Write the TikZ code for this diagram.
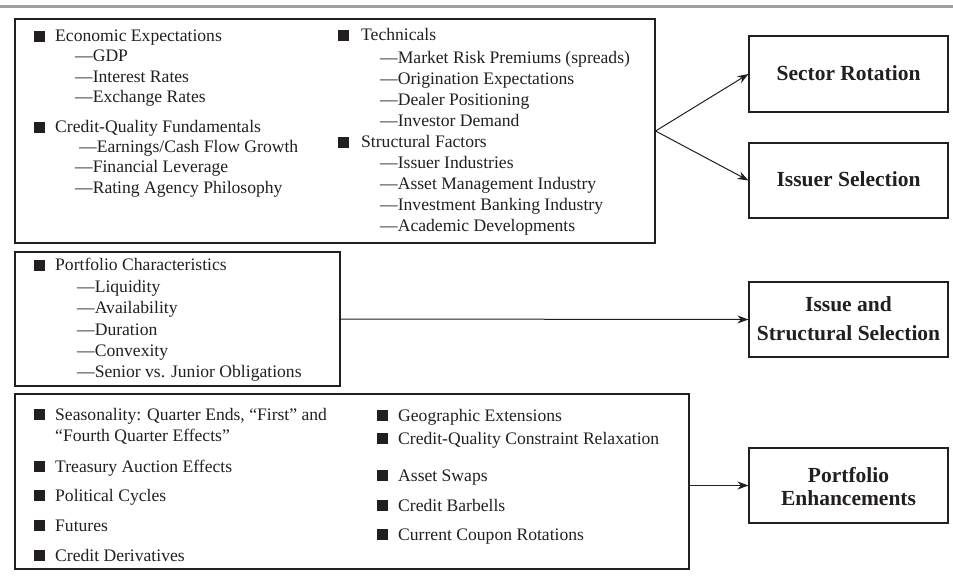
\documentclass[tikz,border=0pt]{standalone}
\usepackage{fontspec}
\setmainfont{Liberation Serif}
\usetikzlibrary{arrows.meta}
\definecolor{ink}{RGB}{35,31,32}
\begin{document}
\begin{tikzpicture}[x=1pt,y=-1pt,
  box/.style={draw=ink,line width=1.1pt,inner sep=0pt},
  goal/.style={draw=ink,line width=1.1pt,inner sep=0pt,minimum width=199pt,align=center,
    font=\fontsize{21.5pt}{27pt}\selectfont\bfseries,text=ink},
  bul/.style={fill=ink,inner sep=0pt,minimum size=10.5pt,anchor=south west},
  txt/.style={inner sep=0pt,anchor=base west,text=ink,font=\fontsize{17.6pt}{21pt}\selectfont},
  arr/.style={draw=ink,line width=1pt,-{Stealth[length=11pt,width=8pt]}}]
\useasboundingbox (0,0) rectangle (953,577);
\fill[gray!75] (0,5) rectangle (953,7.6);
% boxes
\node[box,minimum width=640pt,minimum height=224pt] (box1) at (335,131) {};
\node[box,minimum width=325pt,minimum height=134pt] (box2) at (177.5,319) {};
\node[box,minimum width=674pt,minimum height=175pt] (box3) at (352,481.5) {};
\node[goal,minimum height=76pt] (sector) at (848.5,74) {};
\node[goal,minimum height=75pt] (issuer) at (848.5,180.5) {};
\node[goal,minimum height=75pt] (issue) at (848.5,319.5) {};
\node[goal,minimum height=75pt] (enh) at (848.5,485.5) {};
% goal labels
\tikzset{lab/.style={inner sep=0pt,anchor=base,text=ink,font=\fontsize{21.5pt}{27pt}\selectfont\bfseries}}
\node[lab] (l1) at (848.5,81) {Sector Rotation};
\node[lab] (l2) at (848.5,187) {Issuer Selection};
\node[lab] (l3) at (848.5,312) {Issue and};
\node[lab] (l4) at (848.5,340) {Structural Selection};
\node[lab] (l5) at (848.5,482) {Portfolio};
\node[lab] (l6) at (848.5,505) {Enhancements};
% box 1 left column
\node[bul] (b11) at (34,42) {};
\node[txt] (t11) at (55,42) {Economic Expectations};
\node[txt] (t12) at (75,62) {—GDP};
\node[txt] (t13) at (75,83) {—Interest Rates};
\node[txt] (t14) at (75,103) {—Exchange Rates};
\node[bul] (b12) at (34,133) {};
\node[txt] (t15) at (55,133) {Credit-Quality Fundamentals};
\node[txt] (t16) at (79,153) {—Earnings/Cash Flow Growth};
\node[txt] (t17) at (75,173) {—Financial Leverage};
\node[txt] (t18) at (75,194) {—Rating Agency Philosophy};
% box 1 right column
\node[bul] (b13) at (338,41) {};
\node[txt] (t21) at (361,41) {Technicals};
\node[txt] (t22) at (380,64) {—Market Risk Premiums (spreads)};
\node[txt] (t23) at (380,85) {—Origination Expectations};
\node[txt] (t24) at (380,106) {—Dealer Positioning};
\node[txt] (t25) at (380,127) {—Investor Demand};
\node[bul] (b14) at (338,148) {};
\node[txt] (t26) at (361,148) {Structural Factors};
\node[txt] (t27) at (380,169) {—Issuer Industries};
\node[txt] (t28) at (380,190) {—Asset Management Industry};
\node[txt] (t29) at (380,211) {—Investment Banking Industry};
\node[txt] (t30) at (380,232) {—Academic Developments};
% box 2
\node[bul] (b21) at (34,271) {};
\node[txt] (u1) at (55,271) {Portfolio Characteristics};
\node[txt] (u2) at (77,293) {—Liquidity};
\node[txt] (u3) at (77,314) {—Availability};
\node[txt] (u4) at (77,335) {—Duration};
\node[txt] (u5) at (77,356) {—Convexity};
\node[txt] (u6) at (77,377) {—Senior vs. Junior Obligations};
% box 3 left
\node[bul] (b31) at (34,420) {};
\node[txt] (v1) at (55,420) {Seasonality: Quarter Ends, “First” and};
\node[txt] (v1b) at (55,441) {“Fourth Quarter Effects”};
\node[bul] (b32) at (34,472) {};
\node[txt] (v2) at (55,472) {Treasury Auction Effects};
\node[bul] (b33) at (34,501) {};
\node[txt] (v3) at (55,501) {Political Cycles};
\node[bul] (b34) at (34,531) {};
\node[txt] (v4) at (55,531) {Futures};
\node[bul] (b35) at (34,561) {};
\node[txt] (v5) at (55,561) {Credit Derivatives};
% box 3 right
\node[bul] (b36) at (377,421) {};
\node[txt] (w1) at (398,421) {Geographic Extensions};
\node[bul] (b37) at (377,444) {};
\node[txt] (w2) at (398,444) {Credit-Quality Constraint Relaxation};
\node[bul] (b38) at (377,481) {};
\node[txt] (w3) at (398,481) {Asset Swaps};
\node[bul] (b39) at (377,511) {};
\node[txt] (w4) at (398,511) {Credit Barbells};
\node[bul] (b40) at (377,540) {};
\node[txt] (w5) at (398,540) {Current Coupon Rotations};
% connectors
\draw[arr] (box1.east) -- (sector.west);
\draw[arr] (box1.east) -- (issuer.west);
\draw[arr] (box2.east) -- (issue.west);
\draw[arr] (box3.east |- enh.west) -- (enh.west);
\end{tikzpicture}
\end{document}
